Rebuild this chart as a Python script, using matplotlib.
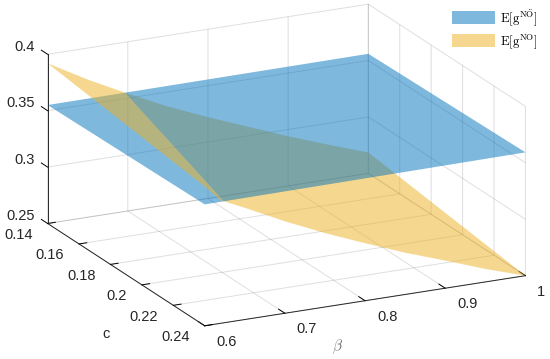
import numpy as np
import matplotlib
matplotlib.use("Agg")
import matplotlib.pyplot as plt
from matplotlib.patches import Patch
from mpl_toolkits.mplot3d import proj3d
from mpl_toolkits.mplot3d.art3d import Poly3DCollection

# values
beta = [0.6, 0.62, 0.65, 0.7, 0.75, 0.8, 0.85, 0.9, 0.95, 1.0]
c_edges = [0.14, 0.24]
# E[g^NO] along the two edges c=0.14 and c=0.24
g_no_back = [0.392, 0.384, 0.372, 0.354, 0.337, 0.322, 0.308, 0.294, 0.281, 0.2685]
g_no_front = [0.3735, 0.359, 0.349, 0.3315, 0.3155, 0.301, 0.287, 0.2745, 0.2615, 0.25]
# E[g^NÖ] at beta=0.6 and beta=1
g_noo_back = [0.355, 0.356]
g_noo_front = [0.3576, 0.3593]

beta_ticks = [0.6, 0.7, 0.8, 0.9, 1]
c_ticks = [0.14, 0.16, 0.18, 0.2, 0.22, 0.24]
z_ticks = [0.25, 0.3, 0.35, 0.4]

BLUE = "#0072BD"
YELLOW = "#EDB120"
DARK = (0.15, 0.15, 0.15)
FS = 10.5

plt.rcParams["font.family"] = "Liberation Sans"
plt.rcParams["mathtext.fontset"] = "cm"
plt.rcParams["grid.color"] = (0.15, 0.15, 0.15, 0.15)
plt.rcParams["grid.linewidth"] = 0.7


# where the yellow edge goes below the blue plane
def split_edge(z_no, z_noo, c):
    b = np.array(beta)
    z = np.array(z_no)
    blue = np.interp(b, [b[0], b[-1]], z_noo)
    diff = z - blue
    bx = np.interp(0, diff[::-1], b[::-1])
    zx = np.interp(bx, b, z)
    over = b < bx
    upper = [(x, c, y) for x, y in zip(b[over], z[over])] + [(bx, c, zx)]
    lower = [(bx, c, zx)] + [(x, c, y) for x, y in zip(b[~over], z[~over])]
    return upper, lower


# tick label at a data point, off the box like in MATLAB
def tick_label(x, y, z, value, ha):
    px, py, _ = proj3d.proj_transform(x, y, z, ax.get_proj())
    ax.text2D(px, py, f"{value:g}", transform=ax.transData, fontsize=FS, color=DARK, ha=ha, va="center")


up_b, low_b = split_edge(g_no_back, g_noo_back, c_edges[0])
up_f, low_f = split_edge(g_no_front, g_noo_front, c_edges[1])

fig = plt.figure(figsize=(5.5, 3.59), dpi=100)
ax = fig.add_axes([19.5 / 550, -73 / 359, 520 / 550, 520 / 359], projection="3d",
                  proj_type="ortho", computed_zorder=False)
ax.view_init(elev=18.6, azim=-116.1)
ax.set_box_aspect((2, 2, 1))
ax.set_xlim(0.6, 1, view_margin=0)
ax.set_ylim(0.24, 0.14, view_margin=0)
ax.set_zlim(0.25, 0.4, view_margin=0)

# surfaces, painter order: yellow under the plane, plane, yellow over it
plane = [(beta[0], c_edges[0], g_noo_back[0]), (beta[-1], c_edges[0], g_noo_back[1]),
         (beta[-1], c_edges[1], g_noo_front[1]), (beta[0], c_edges[1], g_noo_front[0])]
parts = [(low_b + low_f[::-1], YELLOW, 1), (plane, BLUE, 2), (up_b + up_f[::-1], YELLOW, 3)]
for verts, col, zo in parts:
    poly = Poly3DCollection([verts], facecolors=col, edgecolors="none", alpha=0.5, zorder=zo)
    ax.add_collection3d(poly)

ax.set_xticks(beta_ticks)
ax.set_yticks(c_ticks)
ax.set_zticks(z_ticks)
ax.set_xticklabels([])
ax.set_yticklabels([])
ax.set_zticklabels([])
ax.zaxis.set_ticks_position("lower")

for axis, out in ((ax.xaxis, 0.5), (ax.yaxis, 0.3), (ax.zaxis, 0.5)):
    axis.set_pane_color((1, 1, 1, 0))
    axis.pane.set_edgecolor((0.15, 0.15, 0.15, 0.15))
    axis.line.set_color(DARK)
    axis.line.set_linewidth(0.7)
    axis._axinfo["tick"]["inward_factor"] = 0.0
    axis._axinfo["tick"]["outward_factor"] = out
    axis._axinfo["tick"]["linewidth"] = {True: 0.7, False: 0.5}
    axis._axinfo["tick"]["color"] = DARK

for b in beta_ticks:
    tick_label(b, 0.24 + 0.0076, 0.25 - 0.0072, b, "left")
for c in c_ticks:
    tick_label(0.6 - 0.0188, c, 0.25 - 0.008, c, "right")
for z in z_ticks:
    tick_label(0.6 - 0.0163, 0.14, z + 0.0084, z, "right")

fig.text(106 / 550, 1 - 334 / 359, "c", fontsize=FS, color=DARK, ha="center", va="center")
fig.text(337 / 550, 1 - 347 / 359, r"$\beta$", fontsize=11, color="0.45", ha="center", va="center")

handles = [Patch(facecolor=BLUE, alpha=0.5, edgecolor="none"),
           Patch(facecolor=YELLOW, alpha=0.5, edgecolor="none")]
labels = [r"$\mathrm{E[g^{N\ddot{O}}]}$", r"$\mathrm{E[g^{NO}]}$"]
fig.legend(handles, labels, loc="upper left", bbox_to_anchor=(452 / 550, 1 - 7 / 359), frameon=False,
           fontsize=9.2, handlelength=3.4, handleheight=1.2, handletextpad=0.35, labelspacing=0.3,
           borderaxespad=0, borderpad=0)

fig.savefig("out.png", dpi=100)
